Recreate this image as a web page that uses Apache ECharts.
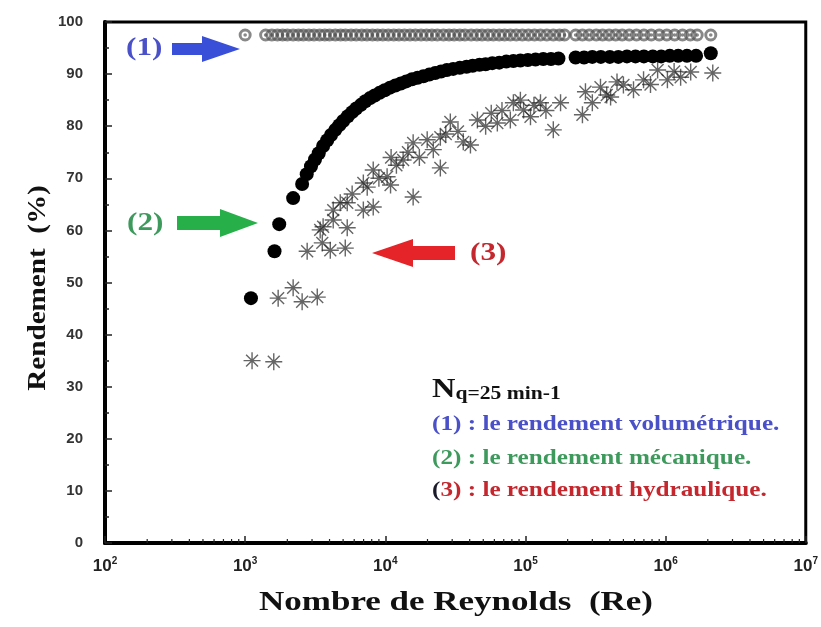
<!DOCTYPE html>
<html><head><meta charset="utf-8">
<script src="https://cdn.jsdelivr.net/npm/echarts@6/dist/echarts.min.js"></script>
<style>html,body{margin:0;padding:0;background:#fff}#chart{width:821px;height:627px}</style>
</head><body><div id="chart"></div>
<script>
// Rendement volumétrique (1): [Re, %]
const volumetric = [
  [1000,97.5],[1400,97.5],[1550,97.5],[1700,97.5],[1850,97.5],[2000,97.5],[2200,97.5],[2400,97.5],
  [2600,97.5],[2850,97.5],[3100,97.5],[3400,97.5],[3700,97.5],[4000,97.5],[4400,97.5],[4800,97.5],
  [5200,97.5],[5700,97.5],[6200,97.5],[6800,97.5],[7400,97.5],[8100,97.5],[8800,97.5],[9600,97.5],
  [10500,97.5],[11500,97.5],[12500,97.5],[13700,97.5],[15000,97.5],[16400,97.5],[18000,97.5],[19700,97.5],
  [21500,97.5],[23500,97.5],[26000,97.5],[28500,97.5],[31000,97.5],[34000,97.5],[37000,97.5],[41000,97.5],
  [45000,97.5],[49000,97.5],[54000,97.5],[59000,97.5],[65000,97.5],[71000,97.5],[78000,97.5],[86000,97.5],
  [95000,97.5],[105000,97.5],[116000,97.5],[128000,97.5],[142000,97.5],[158000,97.5],[175000,97.5],[190000,97.5],
  [228000,97.5],[255000,97.5],[285000,97.5],[320000,97.5],[355000,97.5],[395000,97.5],[440000,97.5],[490000,97.5],
  [550000,97.5],[620000,97.5],[700000,97.5],[790000,97.5],[900000,97.5],[1020000,97.5],[1160000,97.5],[1320000,97.5],
  [1500000,97.5],[1680000,97.5],[2100000,97.5]
];
// Rendement mécanique (2): [Re, %]
const mecanique = [
  [1100,47],[1620,56],[1750,61.2],[2200,66.2],[2550,68.9],[2750,70.8],[2950,72.3],[3150,73.6],
  [3350,74.8],[3600,76.2],[3850,77.3],[4100,78.3],[4400,79.3],[4700,80.2],[5000,81],[5400,81.9],
  [5800,82.7],[6200,83.4],[6700,84.1],[7200,84.8],[7800,85.4],[8400,85.9],[9100,86.4],[9900,86.9],
  [10800,87.4],[11800,87.8],[12900,88.2],[14100,88.6],[15500,89],[17000,89.3],[18700,89.6],[20600,89.9],
  [22700,90.2],[25000,90.5],[27500,90.8],[30500,91],[34000,91.2],[38000,91.4],[42000,91.6],[47000,91.8],
  [52000,91.9],[58000,92.1],[65000,92.2],[73000,92.4],[82000,92.5],[92000,92.6],[104000,92.7],[118000,92.8],
  [134000,92.9],[152000,92.9],[172000,93],[228000,93.2],[262000,93.2],[300000,93.3],[345000,93.3],[400000,93.3],
  [460000,93.3],[530000,93.4],[610000,93.4],[700000,93.4],[810000,93.4],[930000,93.4],[1070000,93.5],[1230000,93.5],
  [1420000,93.5],[1650000,93.5],[2100000,94]
];
// Rendement hydraulique (3): [Re, %]
const hydraulique = [
  [1120,35],[1600,34.8],[1720,47],[2200,49],[2550,46.3],[3270,47.2],[2770,56],[3550,57.6],
  [4050,56.2],[5180,56.6],[3430,60.1],[3600,60.7],[4250,62],[5350,60.5],[4250,63.9],[4770,65.3],
  [5350,65.3],[6970,63.9],[5800,67],[7430,68.3],[8200,64.5],[6970,69.1],[8200,71.6],[9000,70],
  [10300,70.3],[10900,68.7],[11000,74],[12000,72.5],[13400,73.5],[14500,75],[15800,66.4],[15800,76.8],
  [17500,74],[19900,77.4],[22000,75.5],[24700,77.9],[24700,72],[27000,78.5],[29100,80.8],[33000,79],
  [36000,77],[40500,76.4],[45400,81.2],[52000,80],[57000,82.5],[63000,80.6],[68000,83],[78000,81.2],
  [82000,84.5],[92000,85],[97000,83.1],[108600,81.8],[115000,84],[128000,84.5],[140000,83],[158000,79.3],
  [178000,84.5],[255000,82.2],[268000,86.6],[300000,84.5],[343000,87.5],[380000,86],[405000,85.6],[450000,88.5],
  [500000,87.9],[590000,87],[696000,88.9],[780000,88],[877000,90.8],[1030000,88.9],[1150000,90.5],[1280000,89.4],
  [1510000,90.4],[2170000,90.2]
];
// Axis ranges and tick values
const xMin = 100, xMax = 10000000;
const yMin = 0, yMax = 100, yStep = 10;
const xMinorTicks = [];
for (let d = 100; d < xMax; d *= 10) {
  for (let k = 2; k <= 9; k++) xMinorTicks.push(d * k);
}

const serif = '"Liberation Serif", "Times New Roman", serif';
const sans = '"Liberation Sans", Arial, sans-serif';
const blue = '#4a50c8', green = '#3d9a5c', red = '#c4282e';

// Thick ring with centre dot, and an eight-branch asterisk
const ringSymbol = 'path://M10,0A10,10,0,1,1,-10,0A10,10,0,1,1,10,0Z M5.5,0A5.5,5.5,0,1,0,-5.5,0A5.5,5.5,0,1,0,5.5,0Z M2.8,0A2.8,2.8,0,1,1,-2.8,0A2.8,2.8,0,1,1,2.8,0Z';
const starSymbol = 'path://M0,-10L0,10M-10,0L10,0M-7,-7L7,7M-7,7L7,-7';

// Bold serif text helper for annotations (slightly widened lettering)
function label(x, y, text, size, fill, opts) {
  return Object.assign({
    type: 'text', x: x, y: y, scaleX: 1.2,
    style: {text: text, fontFamily: serif, fontWeight: 'bold', fontSize: size, fill: fill,
            align: 'left', verticalAlign: 'middle'}
  }, opts || {});
}

const chart = echarts.init(document.getElementById('chart'), null, {renderer: 'canvas'});

chart.setOption({
  backgroundColor: '#fff',
  animation: false,
  grid: {left: 105, right: 15, top: 22, bottom: 84, show: true, borderColor: '#000', borderWidth: 3},
  xAxis: {
    type: 'log', logBase: 10, min: xMin, max: xMax,
    axisLine: {show: true, lineStyle: {color: '#000', width: 4}},
    axisTick: {show: true, inside: true, length: 7, lineStyle: {color: '#222', width: 1.5}},
    splitLine: {show: false},
    axisLabel: {
      margin: 13,
      formatter: v => '{b|10}{e|' + Math.round(Math.log10(v)) + '}',
      rich: {
        b: {fontFamily: sans, fontWeight: 'bold', fontSize: 17, color: '#222'},
        e: {fontFamily: sans, fontWeight: 'bold', fontSize: 10, color: '#222', padding: [0, 0, 11, 0]}
      }
    }
  },
  yAxis: {
    type: 'value', min: yMin, max: yMax, interval: yStep,
    axisLine: {show: true, lineStyle: {color: '#000', width: 4}},
    axisTick: {show: true, inside: true, length: 7, lineStyle: {color: '#222', width: 1.5}},
    minorTick: {show: true, splitNumber: 2, length: 4, lineStyle: {color: '#222', width: 1.5}},
    splitLine: {show: false},
    axisLabel: {margin: 22, fontFamily: sans, fontWeight: 'bold', fontSize: 15, color: '#333'}
  },
  series: [
    {
      name: 'volumétrique', type: 'scatter', data: volumetric,
      symbol: ringSymbol, symbolSize: 13,
      itemStyle: {color: 'rgb(85,85,85)', opacity: 0.7}, z: 2
    },
    {
      name: 'hydraulique', type: 'scatter', data: hydraulique,
      symbol: starSymbol, symbolSize: 17,
      itemStyle: {color: 'rgba(0,0,0,0)', borderColor: 'rgb(35,35,35)', borderWidth: 1.4, opacity: 0.7}, z: 3
    },
    {
      name: 'mécanique', type: 'scatter', data: mecanique,
      symbol: 'circle', symbolSize: 14,
      itemStyle: {color: '#000', opacity: 1}, z: 4
    },
    {
      name: 'minorTicks', type: 'custom', silent: true, z: 5,
      data: xMinorTicks.map(v => [v, 0]),
      renderItem: (params, api) => {
        const p = api.coord([api.value(0), 0]);
        return {type: 'line', shape: {x1: p[0], y1: p[1], x2: p[0], y2: p[1] - 4},
                style: {stroke: '#222', lineWidth: 1.2}};
      }
    }
  ],
  graphic: [
    // Axis titles
    {type: 'text', x: 456, y: 603, scaleX: 1.25,
     style: {text: 'Nombre de Reynolds  (Re)', fontFamily: serif, fontWeight: 'bold', fontSize: 28,
             fill: '#111', align: 'center', verticalAlign: 'middle'}},
    {type: 'text', x: 38, y: 288, rotation: Math.PI / 2, scaleX: 1.12,
     style: {text: 'Rendement  (%)', fontFamily: serif, fontWeight: 'bold', fontSize: 26,
             fill: '#111', align: 'center', verticalAlign: 'middle'}},
    // (1) blue arrow
    label(126, 48, '(1)', 26, blue),
    {type: 'polygon', shape: {points: [[172,43],[202,43],[202,36],[240,49],[202,62],[202,55],[172,55]]}, style: {fill: '#3a4fd8'}},
    // (2) green arrow
    label(127, 223, '(2)', 26, green),
    {type: 'polygon', shape: {points: [[177,216],[220,216],[220,209],[258,223],[220,237],[220,230],[177,230]]}, style: {fill: '#27b04a'}},
    // (3) red arrow
    {type: 'polygon', shape: {points: [[455,246],[413,246],[413,239],[372,253],[413,267],[413,260],[455,260]]}, style: {fill: '#e52429'}},
    label(470, 253, '(3)', 26, red),
    // Legend block
    {type: 'text', x: 432, y: 390, scaleX: 1.2, style: {
      text: '{n|N}{q|q=25 min-1}', align: 'left', verticalAlign: 'middle',
      rich: {
        n: {fontFamily: serif, fontWeight: 'bold', fontSize: 27, fill: '#111'},
        q: {fontFamily: serif, fontWeight: 'bold', fontSize: 18, fill: '#111', padding: [9, 0, 0, 0]}
      }
    }},
    label(432, 425, '(1) : le rendement volumétrique.', 21, blue),
    label(432, 459, '(2) : le rendement mécanique.', 21, green),
    {type: 'text', x: 432, y: 491, scaleX: 1.2, style: {
      text: '{d|(}{r|3) : le rendement hydraulique.}', align: 'left', verticalAlign: 'middle',
      rich: {
        d: {fontFamily: serif, fontWeight: 'bold', fontSize: 21, fill: '#1a1a2a'},
        r: {fontFamily: serif, fontWeight: 'bold', fontSize: 21, fill: red}
      }
    }}
  ]
});
</script></body></html>
